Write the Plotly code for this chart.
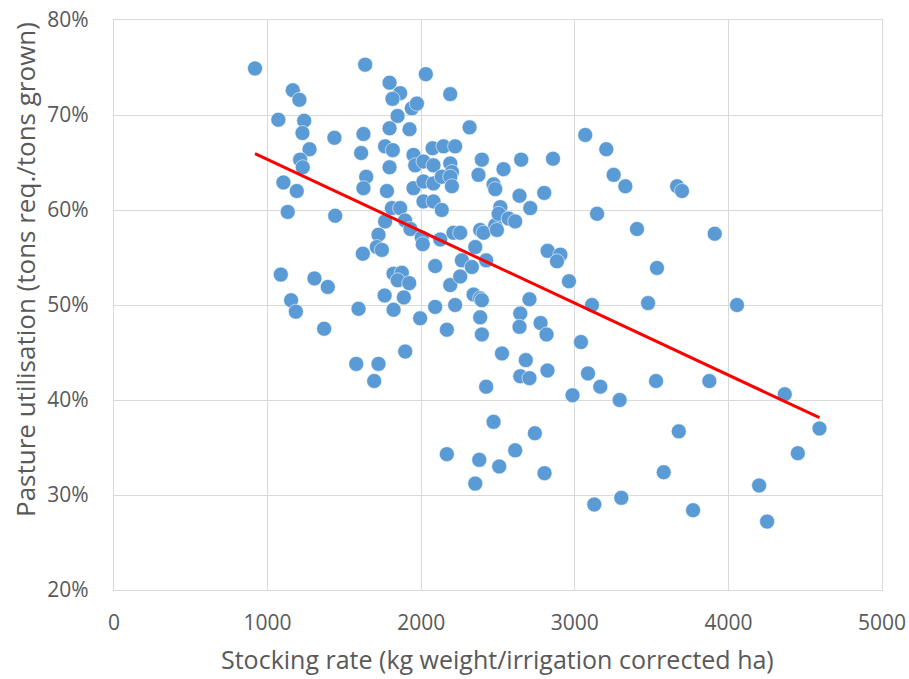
import numpy as np
import plotly.graph_objects as go

# Stocking rate (kg weight / irrigation corrected ha)
stocking_rate = [
    918, 1070, 1164, 1207, 1238, 1227, 1273, 1212, 1229, 1103, 1190, 1131, 1435, 1440,
    1086, 1305, 1392, 1153, 1184, 1368,
    1635, 1794, 1863, 1813, 1939, 1972, 1846, 1794, 1924, 1624, 1765, 1815, 1609, 1794,
    1950, 1961, 1642, 1624, 1777, 1950, 1809, 1863, 1765, 1722, 1895, 1930, 1711, 1744,
    1620, 1820, 1874, 1847, 1922, 1592, 1762, 1887, 1820, 1993, 1896, 1577, 1722, 1694,
    2030, 2189, 2315, 2074, 2145, 2221, 2015, 2080, 2189, 2200, 2395, 2373, 2015, 2080,
    2134, 2189, 2200, 2471, 2482, 2015, 2080, 2134, 2004, 2010, 2124, 2210, 2254, 2384,
    2406, 2482, 2493, 2352, 2265, 2330, 2423, 2091, 2189, 2254, 2091, 2221, 2341, 2384,
    2395, 2384, 2395, 2167, 2423, 2471, 2167, 2378, 2352,
    2651, 2536, 2858, 2640, 2801, 2710, 2515, 2504, 2569, 2612, 2823, 2906, 2884, 2962,
    2705, 2645, 2640, 2777, 2816, 2526, 2681, 2645, 2705, 2822, 2985, 2740, 2508, 2612,
    2803,
    3068, 3205, 3253, 3329, 3666, 3698, 3145, 3405, 3911, 3535, 3112, 3477, 4056, 3040,
    3086, 3166, 3292, 3529, 3876, 4367, 4593, 4452, 4200, 4252, 3677, 3579, 3770, 3303,
    3127,
]

# Pasture utilisation (%)
utilisation = [
    74.9, 69.5, 72.6, 71.6, 69.4, 68.1, 66.4, 65.3, 64.5, 62.9, 62.0, 59.8, 67.6, 59.4,
    53.2, 52.8, 51.9, 50.5, 49.3, 47.5,
    75.3, 73.4, 72.3, 71.7, 70.7, 71.2, 69.9, 68.6, 68.5, 68.0, 66.7, 66.3, 66.0, 64.5,
    65.8, 64.7, 63.5, 62.3, 62.0, 62.3, 60.2, 60.2, 58.8, 57.4, 58.9, 58.0, 56.1, 55.8,
    55.4, 53.3, 53.4, 52.6, 52.3, 49.6, 51.0, 50.8, 49.5, 48.6, 45.1, 43.8, 43.8, 42.0,
    74.3, 72.2, 68.7, 66.5, 66.7, 66.7, 65.1, 64.7, 64.9, 64.0, 65.3, 63.7, 63.0, 62.8,
    63.5, 63.5, 62.5, 62.7, 62.2, 60.9, 60.9, 60.0, 57.1, 56.4, 56.9, 57.6, 57.6, 57.9,
    57.6, 58.4, 57.9, 56.1, 54.7, 54.0, 54.7, 54.1, 52.1, 53.0, 49.8, 50.0, 51.1, 50.7,
    50.5, 48.7, 46.9, 47.4, 41.4, 37.7, 34.3, 33.7, 31.2,
    65.3, 64.3, 65.4, 61.5, 61.8, 60.2, 60.3, 59.6, 59.1, 58.8, 55.7, 55.3, 54.6, 52.5,
    50.6, 49.1, 47.7, 48.1, 46.9, 44.9, 44.2, 42.5, 42.3, 43.1, 40.5, 36.5, 33.0, 34.7,
    32.3,
    67.9, 66.4, 63.7, 62.5, 62.5, 62.0, 59.6, 58.0, 57.5, 53.9, 50.0, 50.2, 50.0, 46.1,
    42.8, 41.4, 40.0, 42.0, 42.0, 40.6, 37.0, 34.4, 31.0, 27.2, 36.7, 32.4, 28.4, 29.7,
    29.0,
]

x_ticks = [0, 1000, 2000, 3000, 4000, 5000]
y_ticks = [20, 30, 40, 50, 60, 70, 80]

x_title = "Stocking rate (kg weight/irrigation corrected ha)"
y_title = "Pasture utilisation (tons req./tons grown)"

xs = np.array(stocking_rate, dtype=float)
ys = np.array(utilisation, dtype=float)
slope, intercept = np.polyfit(xs, ys, 1)
trend_x = [xs.min(), xs.max()]
trend_y = [slope * v + intercept for v in trend_x]

FONT = "Open Sans"
TXT = "#595959"
GRID = "#D9D9D9"
L, R, T, B = 114, 27, 20, 89
PW, PH = 909 - L - R, 679 - T - B

fig = go.Figure()
fig.add_trace(go.Scatter(
    x=stocking_rate, y=utilisation, mode="markers",
    marker=dict(color="#5B9BD5", size=15, line=dict(color="rgba(255,255,255,0.7)", width=0.8)),
    showlegend=False, hoverinfo="skip",
))
fig.add_trace(go.Scatter(
    x=trend_x, y=trend_y, mode="lines",
    line=dict(color="#FF0000", width=3),
    showlegend=False, hoverinfo="skip",
))

fig.update_layout(
    width=909, height=679,
    margin=dict(l=L, r=R, t=T, b=B, autoexpand=False),
    paper_bgcolor="white", plot_bgcolor="white",
    font=dict(family=FONT, color=TXT, size=21),
)
fig.update_xaxes(
    range=[0, 5000], tickvals=x_ticks, ticktext=[str(v) for v in x_ticks],
    showgrid=True, gridcolor=GRID, gridwidth=1.3,
    showline=True, linecolor=GRID, linewidth=1.3, mirror=True,
    zeroline=False, ticks="", ticklabelstandoff=14, automargin=False,
    tickfont=dict(family=FONT, size=21, color=TXT),
)
fig.update_yaxes(
    range=[20, 80], tickvals=y_ticks, ticktext=[f"{v}%" for v in y_ticks],
    showgrid=True, gridcolor=GRID, gridwidth=1.3,
    showline=True, linecolor=GRID, linewidth=1.3, mirror=True,
    zeroline=False, ticks="", ticklabelstandoff=20, automargin=False,
    tickfont=dict(family=FONT, size=21, color=TXT),
)
fig.add_annotation(
    text=x_title, showarrow=False,
    xref="paper", yref="paper",
    x=(497 - L) / PW, y=(T + PH - 659) / PH,
    xanchor="center", yanchor="middle",
    font=dict(family=FONT, size=25, color=TXT),
)
fig.add_annotation(
    text=y_title, textangle=-90, showarrow=False,
    xref="paper", yref="paper",
    x=(25 - L) / PW, y=(T + PH - 270) / PH,
    xanchor="center", yanchor="middle",
    font=dict(family=FONT, size=26, color=TXT),
)

fig.write_html("out.html")
